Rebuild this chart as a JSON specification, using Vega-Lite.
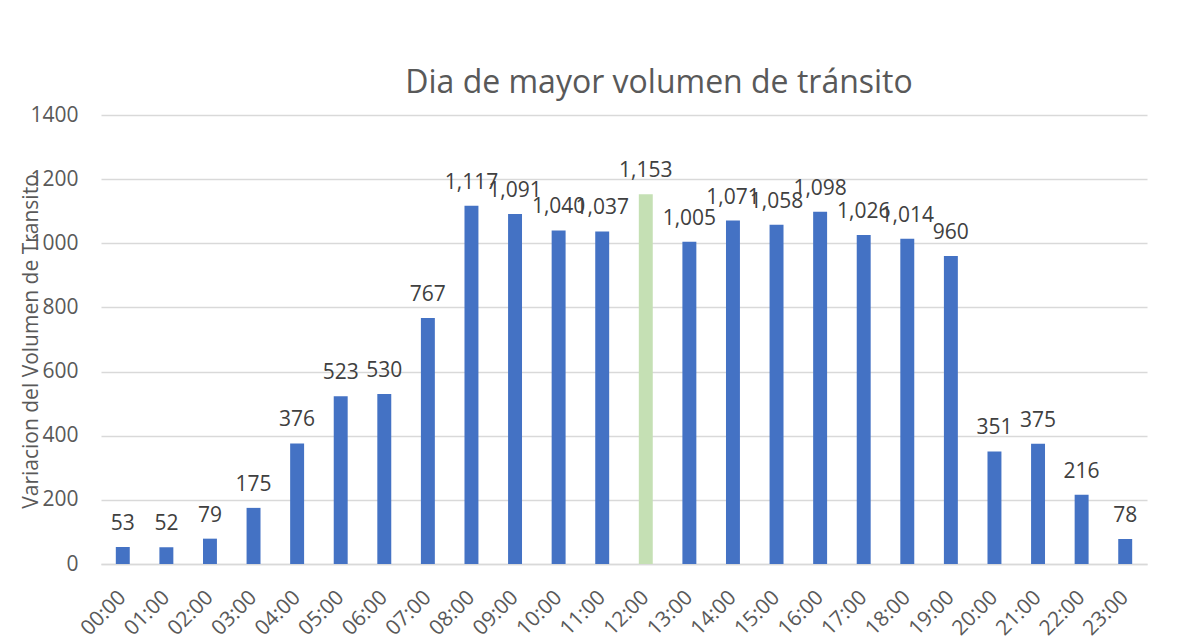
{
  "$schema": "https://vega.github.io/schema/vega-lite/v6.json",
  "width": 1046,
  "height": 449,
  "autosize": "none",
  "padding": {"left": 101, "top": 115, "right": 42, "bottom": 77},
  "background": "white",
  "title": {
    "text": "Dia de mayor volumen de tránsito",
    "font": "Open Sans",
    "fontSize": 32,
    "fontWeight": "normal",
    "color": "#595959",
    "anchor": "middle",
    "dx": 35,
    "offset": 4
  },
  "data": {
    "values": [
      {"hora": "00:00", "volumen": 53},
      {"hora": "01:00", "volumen": 52},
      {"hora": "02:00", "volumen": 79},
      {"hora": "03:00", "volumen": 175},
      {"hora": "04:00", "volumen": 376},
      {"hora": "05:00", "volumen": 523},
      {"hora": "06:00", "volumen": 530},
      {"hora": "07:00", "volumen": 767},
      {"hora": "08:00", "volumen": 1117},
      {"hora": "09:00", "volumen": 1091},
      {"hora": "10:00", "volumen": 1040},
      {"hora": "11:00", "volumen": 1037},
      {"hora": "12:00", "volumen": 1153},
      {"hora": "13:00", "volumen": 1005},
      {"hora": "14:00", "volumen": 1071},
      {"hora": "15:00", "volumen": 1058},
      {"hora": "16:00", "volumen": 1098},
      {"hora": "17:00", "volumen": 1026},
      {"hora": "18:00", "volumen": 1014},
      {"hora": "19:00", "volumen": 960},
      {"hora": "20:00", "volumen": 351},
      {"hora": "21:00", "volumen": 375},
      {"hora": "22:00", "volumen": 216},
      {"hora": "23:00", "volumen": 78}
    ]
  },
  "encoding": {
    "x": {
      "field": "hora",
      "type": "nominal",
      "sort": null,
      "scale": {"paddingInner": 0.68, "paddingOuter": 0.34},
      "axis": {
        "title": null,
        "labelAngle": -45,
        "labelAlign": "right",
        "labelBaseline": "middle",
        "labelPadding": 30,
        "labelFont": "Open Sans",
        "labelFontSize": 21,
        "labelColor": "#595959",
        "ticks": false,
        "domain": true,
        "domainColor": "#d9d9d9",
        "domainWidth": 1.5,
        "grid": false
      }
    },
    "y": {
      "field": "volumen",
      "type": "quantitative",
      "scale": {"domain": [0, 1400]},
      "axis": {
        "title": "Variacion del Volumen de Transito",
        "titleFont": "Open Sans",
        "titleFontSize": 21,
        "titleFontWeight": "normal",
        "titleColor": "#595959",
        "titleAngle": -90,
        "titleX": -70,
        "titleY": 226,
        "titleAlign": "center",
        "titleBaseline": "middle",
        "values": [0, 200, 400, 600, 800, 1000, 1200, 1400],
        "format": "d",
        "labelFont": "Open Sans",
        "labelFontSize": 21,
        "labelColor": "#595959",
        "labelPadding": 23,
        "ticks": false,
        "domain": false,
        "grid": true,
        "gridColor": "#d9d9d9",
        "gridWidth": 1.5
      }
    }
  },
  "layer": [
    {
      "mark": {"type": "bar"},
      "encoding": {
        "color": {
          "condition": {"test": "datum.hora === '12:00'", "value": "#C5E0B4"},
          "value": "#4472C4"
        }
      }
    },
    {
      "mark": {
        "type": "text",
        "font": "Open Sans",
        "fontSize": 21,
        "color": "#404040",
        "baseline": "alphabetic",
        "align": "center",
        "dy": -17
      },
      "encoding": {
        "text": {"field": "volumen", "type": "quantitative", "format": ","}
      }
    }
  ],
  "config": {
    "view": {"stroke": null}
  }
}
